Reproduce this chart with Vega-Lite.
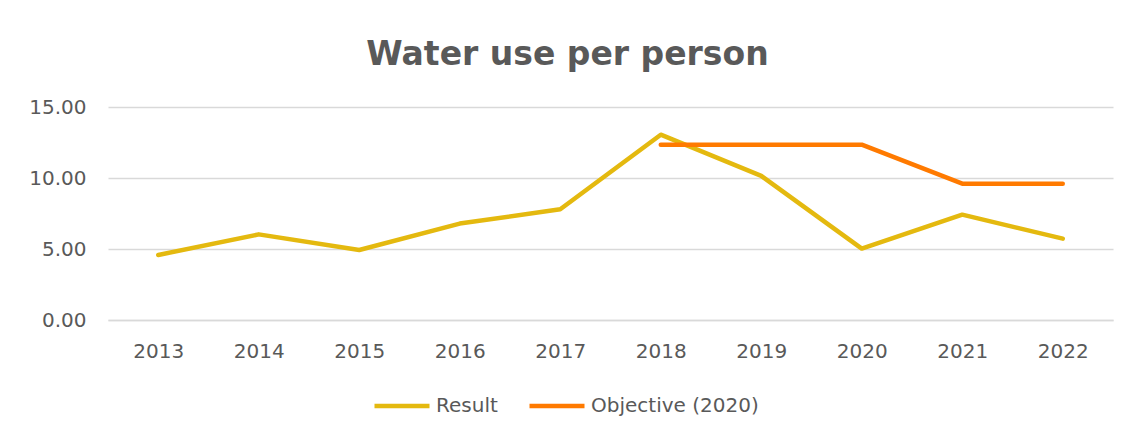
{
  "$schema": "https://vega.github.io/schema/vega-lite/v6.json",
  "autosize": {"type": "none"},
  "padding": {"left": 108, "top": 107, "right": 22, "bottom": 118},
  "width": 1005,
  "height": 213,
  "background": "white",
  "title": {
    "text": "Water use per person",
    "font": "DejaVu Sans",
    "fontSize": 33,
    "fontWeight": "bold",
    "color": "#595959",
    "anchor": "middle",
    "offset": 25,
    "dx": -43
  },
  "data": {
    "values": [
      {"year": "2013", "series": "Result", "value": 4.58},
      {"year": "2014", "series": "Result", "value": 6.03},
      {"year": "2015", "series": "Result", "value": 4.93},
      {"year": "2016", "series": "Result", "value": 6.79},
      {"year": "2017", "series": "Result", "value": 7.8},
      {"year": "2018", "series": "Result", "value": 13.05},
      {"year": "2019", "series": "Result", "value": 10.15},
      {"year": "2020", "series": "Result", "value": 5.03},
      {"year": "2021", "series": "Result", "value": 7.42},
      {"year": "2022", "series": "Result", "value": 5.73},
      {"year": "2018", "series": "Objective (2020)", "value": 12.35},
      {"year": "2019", "series": "Objective (2020)", "value": 12.35},
      {"year": "2020", "series": "Objective (2020)", "value": 12.35},
      {"year": "2021", "series": "Objective (2020)", "value": 9.6},
      {"year": "2022", "series": "Objective (2020)", "value": 9.6}
    ]
  },
  "mark": {"type": "line", "strokeWidth": 4.5, "strokeCap": "round", "strokeJoin": "round"},
  "encoding": {
    "x": {
      "field": "year",
      "type": "ordinal",
      "scale": {"padding": 0.5},
      "axis": {
        "title": null,
        "labelAngle": 0,
        "ticks": false,
        "domain": true,
        "domainColor": "#d9d9d9",
        "domainWidth": 1.5,
        "labelFont": "DejaVu Sans",
        "labelFontSize": 20,
        "labelColor": "#595959",
        "labelPadding": 21
      }
    },
    "y": {
      "field": "value",
      "type": "quantitative",
      "scale": {"domain": [0, 15], "nice": false},
      "axis": {
        "title": null,
        "values": [0, 5, 10, 15],
        "format": ".2f",
        "ticks": false,
        "domain": false,
        "grid": true,
        "gridColor": "#d9d9d9",
        "gridWidth": 1.5,
        "labelFont": "DejaVu Sans",
        "labelFontSize": 20,
        "labelColor": "#595959",
        "labelPadding": 22
      }
    },
    "color": {
      "field": "series",
      "type": "nominal",
      "scale": {"domain": ["Result", "Objective (2020)"], "range": ["#E4B90F", "#FF7A00"]},
      "legend": {
        "title": null,
        "orient": "none",
        "legendX": 264,
        "legendY": 269,
        "direction": "horizontal",
        "symbolType": "stroke",
        "symbolSize": 3025,
        "symbolStrokeWidth": 4.5,
        "labelFont": "DejaVu Sans",
        "labelFontSize": 20,
        "labelColor": "#595959",
        "labelOffset": 4,
        "labelLimit": 400,
        "columnPadding": 22
      }
    }
  },
  "config": {"view": {"stroke": null}}
}
